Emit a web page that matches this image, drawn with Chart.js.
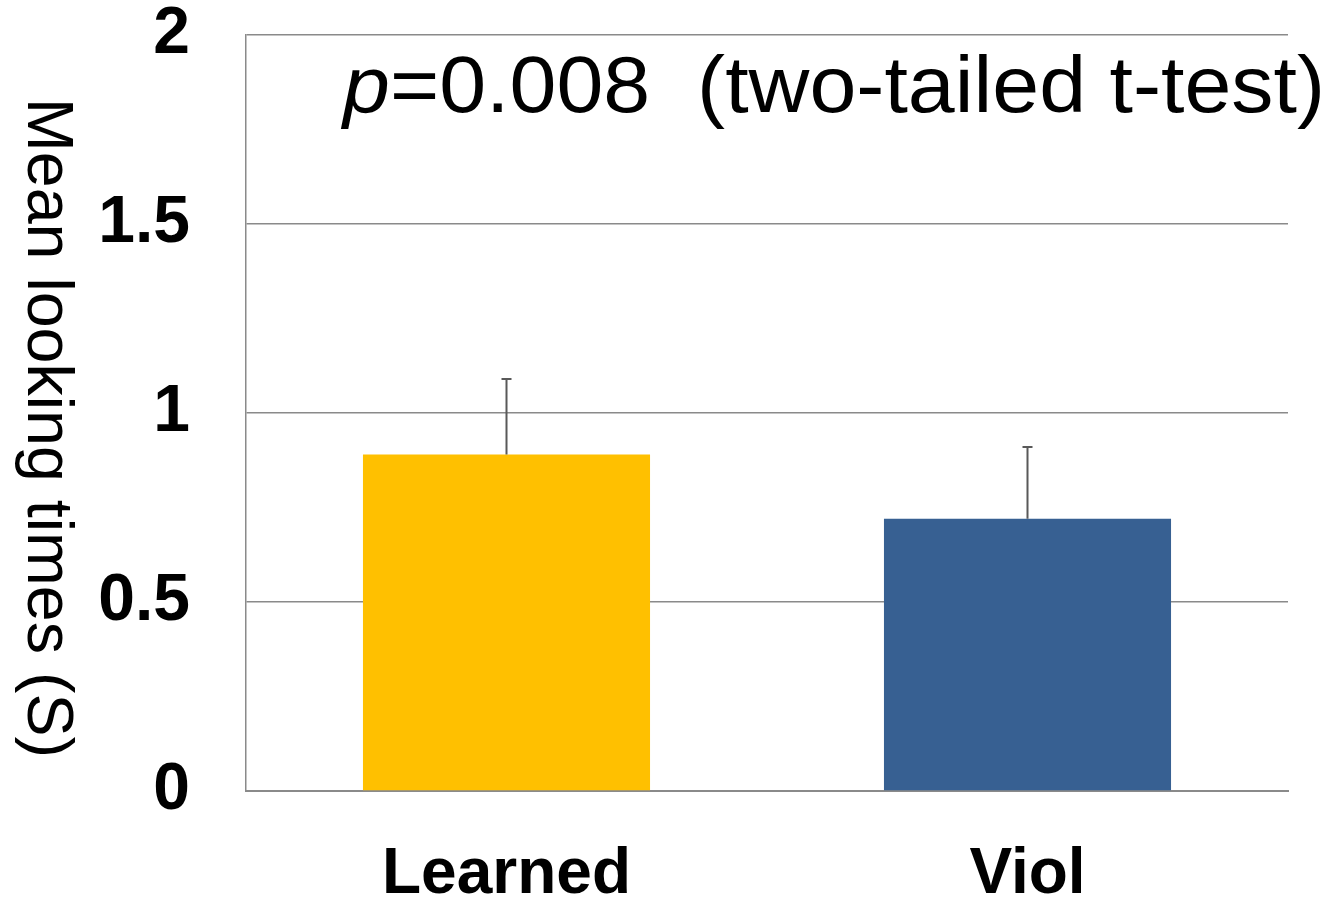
<!DOCTYPE html>
<html>
<head>
<meta charset="utf-8">
<title>Mean looking times</title>
<script src="https://cdn.jsdelivr.net/npm/chart.js@4.4.1/dist/chart.umd.min.js"></script>
<style>
  html, body { margin: 0; padding: 0; background: #ffffff; }
  #wrap { width: 1336px; height: 898px; }
</style>
</head>
<body>
<div id="wrap"><canvas id="chart" width="1336" height="898"></canvas></div>
<script>
// Conditions and their mean looking times (seconds)
const categories = ['Learned', 'Viol'];
const meanTimes = [0.89, 0.72];
const errorUp = [0.20, 0.19];
const barColors = ['#FFC000', '#376092'];
const yTicks = [0, 0.5, 1, 1.5, 2];
const yTitle = 'Mean looking times (S)';
const pLabel = 'p';
const testLabel = '=0.008  (two-tailed t-test)';

const FONT = '"Liberation Sans", Arial, Helvetica, sans-serif';
const GRID = '#8a8a8a';

// Upward error bars with a small cap
const errorBars = {
  id: 'errorBars',
  afterDatasetsDraw(chart) {
    const { ctx } = chart;
    const y = chart.scales.y;
    const meta = chart.getDatasetMeta(0);
    ctx.save();
    ctx.strokeStyle = '#595959';
    ctx.lineWidth = 2;
    meta.data.forEach((bar, i) => {
      const yBase = y.getPixelForValue(meanTimes[i]);
      const yTop = y.getPixelForValue(meanTimes[i] + errorUp[i]);
      ctx.beginPath();
      ctx.moveTo(bar.x, yBase);
      ctx.lineTo(bar.x, yTop);
      ctx.moveTo(bar.x - 5, yTop);
      ctx.lineTo(bar.x + 5, yTop);
      ctx.stroke();
    });
    ctx.restore();
  }
};

// Rotated axis title and the significance note, drawn in a narrow face
const annotations = {
  id: 'annotations',
  afterDraw(chart) {
    const { ctx, chartArea } = chart;
    ctx.save();
    ctx.fillStyle = '#000000';

    // axis title reading top to bottom
    ctx.font = '64px ' + FONT;
    const tw = ctx.measureText(yTitle).width;
    const titleLen = 660;
    ctx.translate(28, chartArea.top + 63);
    ctx.rotate(Math.PI / 2);
    ctx.scale(titleLen / tw, 1);
    ctx.textAlign = 'left';
    ctx.textBaseline = 'alphabetic';
    ctx.fillText(yTitle, 0, 0);
    ctx.restore();

    // p-value note
    ctx.save();
    ctx.fillStyle = '#000000';
    ctx.textBaseline = 'alphabetic';
    ctx.textAlign = 'left';
    ctx.font = 'italic 80px ' + FONT;
    const w1 = ctx.measureText(pLabel).width;
    ctx.font = '80px ' + FONT;
    const w2 = ctx.measureText(testLabel).width;
    const noteLen = 982;
    const sx = noteLen / (w1 + w2);
    ctx.translate(chartArea.left + 97, chartArea.top + 77);
    ctx.scale(sx, 1);
    ctx.font = 'italic 80px ' + FONT;
    ctx.fillText(pLabel, 0, 0);
    ctx.font = '80px ' + FONT;
    ctx.fillText(testLabel, w1, 0);
    ctx.restore();
  }
};

new Chart(document.getElementById('chart'), {
  type: 'bar',
  data: {
    labels: categories,
    datasets: [{
      data: meanTimes,
      backgroundColor: barColors,
      borderWidth: 0,
      categoryPercentage: 1,
      barPercentage: 0.551
    }]
  },
  options: {
    responsive: false,
    animation: false,
    devicePixelRatio: 1,
    layout: { padding: { top: 35, right: 48, left: 0, bottom: 0 } },
    plugins: {
      legend: { display: false },
      tooltip: { enabled: false }
    },
    scales: {
      x: {
        grid: { display: false, drawTicks: false },
        border: { display: true, color: GRID, width: 2 },
        ticks: {
          color: '#000000',
          padding: 52,
          font: { family: FONT, size: 64, weight: 'bold', lineHeight: 1 }
        },
        afterFit(scale) {
          scale.height = 107;
          scale.paddingLeft = 0;
          scale.paddingRight = 0;
        }
      },
      y: {
        min: 0,
        max: 2,
        afterBuildTicks(scale) { scale.ticks = yTicks.map(v => ({ value: v })); },
        grid: { color: GRID, lineWidth: 1.5, drawTicks: false },
        border: { display: true, color: GRID, width: 1.5 },
        ticks: {
          color: '#000000',
          padding: 56,
          font: { family: FONT, size: 66, weight: 'bold', lineHeight: 1 },
          callback: (v) => String(v)
        },
        afterFit(scale) {
          scale.width = 246;
          scale.paddingTop = 0;
          scale.paddingBottom = 0;
        }
      }
    }
  },
  plugins: [errorBars, annotations]
});
</script>
</body>
</html>
